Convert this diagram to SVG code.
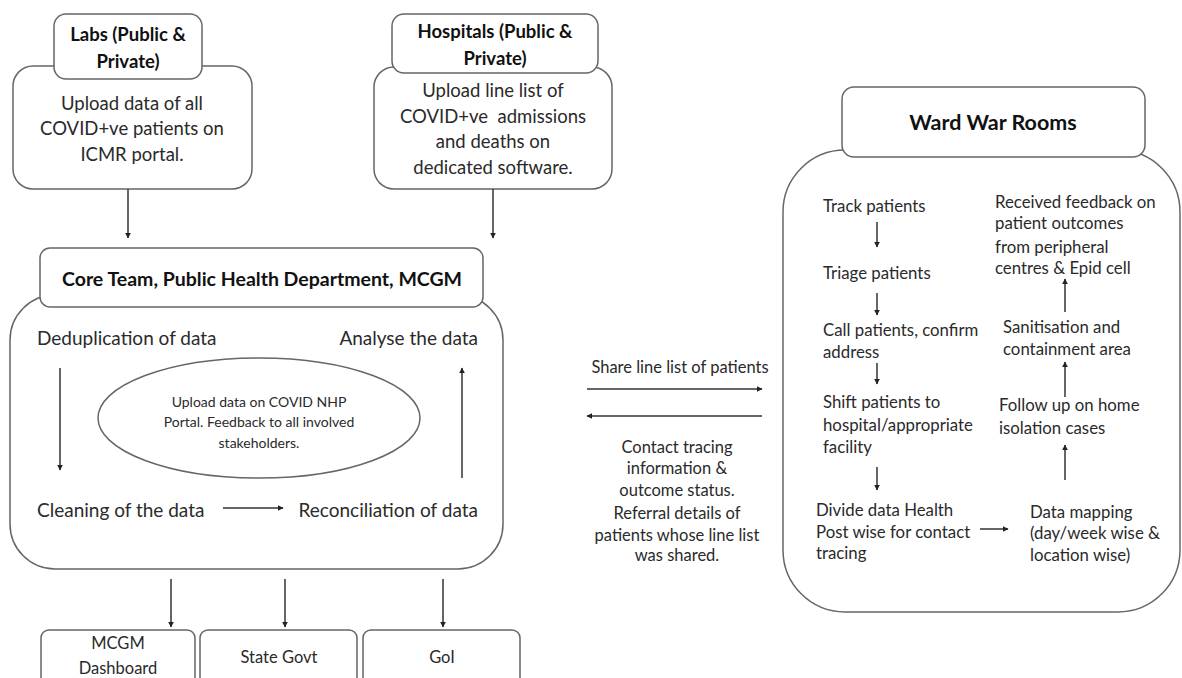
<svg xmlns="http://www.w3.org/2000/svg" width="1182" height="678" viewBox="0 0 1182 678">
<defs>
<marker id="ah" viewBox="0 0 10 10" refX="9" refY="5" markerWidth="6" markerHeight="6" orient="auto" markerUnits="userSpaceOnUse"><path d="M0,0 L10,5 L0,10 z" fill="#222"/></marker>
<style>
.box{fill:#fff;stroke:#666;stroke-width:1.5}
.t{font-family:Lato,"Open Sans",sans-serif;fill:#2a2a2a;text-anchor:middle}
.b{font-weight:bold;fill:#111}
.l{text-anchor:start}
.r{text-anchor:end}
.c line{stroke:#333;stroke-width:1.5;marker-end:url(#ah)}
</style>
</defs>
<rect width="1182" height="678" fill="#fff"/>

<g id="labs">
<rect class="box" x="13" y="66" width="239" height="123" rx="20"/>
<rect class="box" x="54" y="14" width="148" height="65" rx="12"/>
<text class="t b" x="128" y="41" font-size="18.5">Labs (Public &amp;</text>
<text class="t b" x="128" y="68" font-size="18.5">Private)</text>
<text class="t" x="132" y="110" font-size="18.5">Upload data of all</text>
<text class="t" x="132" y="135" font-size="18.5">COVID+ve patients on</text>
<text class="t" x="132" y="161" font-size="18.5">ICMR portal.</text>
</g>

<g id="hospitals">
<rect class="box" x="374" y="67" width="238" height="122" rx="20"/>
<rect class="box" x="392" y="14" width="206" height="59" rx="12"/>
<text class="t b" x="495" y="38" font-size="18.5">Hospitals (Public &amp;</text>
<text class="t b" x="495" y="65" font-size="18.5">Private)</text>
<text class="t" x="493" y="97" font-size="18.5">Upload line list of</text>
<text class="t" x="493" y="123" font-size="18.5" xml:space="preserve">COVID+ve  admissions</text>
<text class="t" x="493" y="148" font-size="18.5">and deaths on</text>
<text class="t" x="493" y="174" font-size="18.5">dedicated software.</text>
</g>

<g id="core">
<rect class="box" x="10" y="295" width="493" height="274" rx="45"/>
<rect class="box" x="40" y="248" width="443" height="59" rx="10"/>
<text class="t b" x="262" y="286" font-size="19.5">Core Team, Public Health Department, MCGM</text>
<text class="t l" x="37" y="345" font-size="19">Deduplication of data</text>
<text class="t r" x="478" y="345" font-size="19">Analyse the data</text>
<text class="t l" x="37" y="517" font-size="19">Cleaning of the data</text>
<text class="t r" x="478" y="517" font-size="19">Reconciliation of data</text>
</g>

<g id="nhp">
<ellipse class="box" cx="259" cy="418" rx="161" ry="60" stroke-width="1.2"/>
<text class="t" x="259" y="407" font-size="14">Upload data on COVID NHP</text>
<text class="t" x="259" y="427" font-size="14">Portal. Feedback to all involved</text>
<text class="t" x="259" y="448" font-size="14">stakeholders.</text>
</g>

<g id="mcgm-dashboard">
<rect class="box" x="41" y="630" width="154" height="60" rx="8"/>
<text class="t" x="118" y="649" font-size="16.5">MCGM</text>
<text class="t" x="118" y="674" font-size="16.5">Dashboard</text>
</g>
<g id="state-govt">
<rect class="box" x="200" y="630" width="157" height="60" rx="8"/>
<text class="t" x="279" y="663" font-size="16.5">State Govt</text>
</g>
<g id="goi">
<rect class="box" x="363" y="630" width="157" height="60" rx="8"/>
<text class="t" x="442" y="663" font-size="16.5">GoI</text>
</g>

<g id="exchange-labels">
<text class="t" x="680" y="373" font-size="16.5">Share line list of patients</text>
<text class="t" x="677" y="453" font-size="16.5">Contact tracing</text>
<text class="t" x="677" y="474" font-size="16.5">information &amp;</text>
<text class="t" x="677" y="496" font-size="16.5">outcome status.</text>
<text class="t" x="677" y="519" font-size="16.5">Referral details of</text>
<text class="t" x="677" y="541" font-size="16.5">patients whose line list</text>
<text class="t" x="677" y="561" font-size="16.5">was shared.</text>
</g>

<g id="ward">
<rect class="box" x="783" y="150" width="397" height="462" rx="62"/>
<rect class="box" x="842" y="87" width="303" height="70" rx="12"/>
<text class="t b" x="993" y="130" font-size="21.5">Ward War Rooms</text>
<g font-size="16.8">
<text class="t l" x="823" y="212">Track patients</text>
<text class="t l" x="823" y="279">Triage patients</text>
<text class="t l" x="823" y="336">Call patients, confirm</text>
<text class="t l" x="823" y="358">address</text>
<text class="t l" x="823" y="408">Shift patients to</text>
<text class="t l" x="823" y="431">hospital/appropriate</text>
<text class="t l" x="823" y="453">facility</text>
<text class="t l" x="816" y="516">Divide data Health</text>
<text class="t l" x="816" y="538">Post wise for contact</text>
<text class="t l" x="816" y="559">tracing</text>
<text class="t l" x="1030" y="518">Data mapping</text>
<text class="t l" x="1030" y="539">(day/week wise &amp;</text>
<text class="t l" x="1030" y="561">location wise)</text>
<text class="t l" x="999" y="411">Follow up on home</text>
<text class="t l" x="999" y="434">isolation cases</text>
<text class="t l" x="1003" y="333">Sanitisation and</text>
<text class="t l" x="1003" y="355">containment area</text>
<text class="t l" x="995" y="208">Received feedback on</text>
<text class="t l" x="995" y="229">patient outcomes</text>
<text class="t l" x="995" y="253">from peripheral</text>
<text class="t l" x="995" y="274">centres &amp; Epid cell</text>
</g>
</g>

<g id="connectors" class="c">
<line x1="128" y1="189" x2="128" y2="238"/>
<line x1="493" y1="189" x2="493" y2="238"/>
<line x1="60" y1="368" x2="60" y2="470"/>
<line x1="462" y1="478" x2="462" y2="368"/>
<line x1="223" y1="508" x2="283" y2="508"/>
<line x1="171" y1="579" x2="171" y2="627"/>
<line x1="285" y1="579" x2="285" y2="627"/>
<line x1="443" y1="579" x2="443" y2="627"/>
<line x1="587" y1="389" x2="762" y2="389"/>
<line x1="762" y1="416" x2="587" y2="416"/>
<line x1="877" y1="222" x2="877" y2="247"/>
<line x1="877" y1="293" x2="877" y2="315"/>
<line x1="877" y1="363" x2="877" y2="384"/>
<line x1="877" y1="467" x2="877" y2="490"/>
<line x1="980" y1="529" x2="1008" y2="529"/>
<line x1="1065" y1="480" x2="1065" y2="445"/>
<line x1="1065" y1="397" x2="1065" y2="362"/>
<line x1="1065" y1="312" x2="1065" y2="279"/>
</g>
</svg>
